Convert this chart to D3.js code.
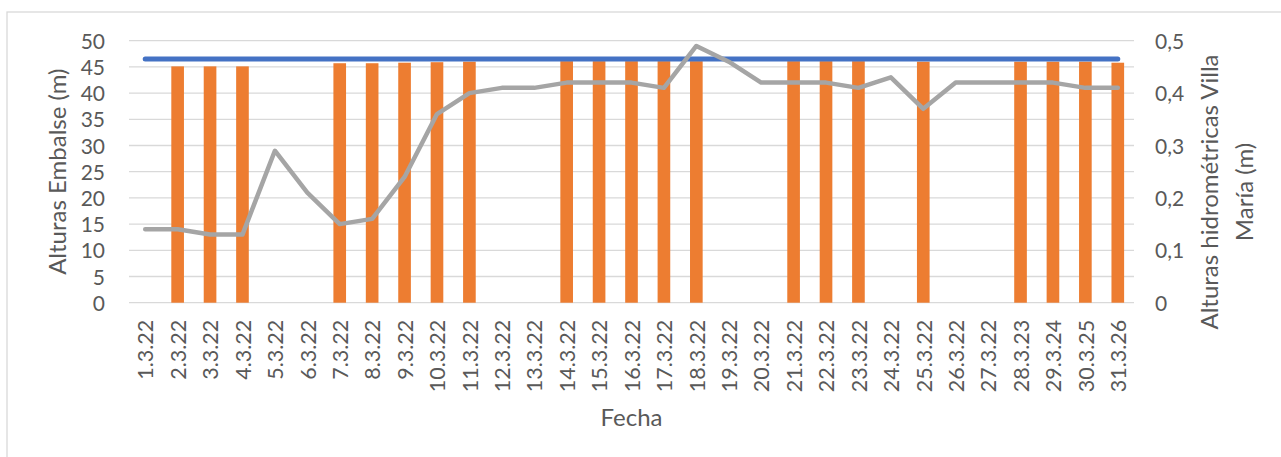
<!DOCTYPE html>
<html>
<head>
<meta charset="utf-8">
<script src="https://cdn.jsdelivr.net/npm/d3@7"></script>
<style>
  html, body { margin: 0; padding: 0; background: #fff; }
  svg { display: block; }
  text { font-family: Lato, "Open Sans", sans-serif; fill: #595959; }
</style>
</head>
<body>
<svg id="chart" width="1281" height="457"></svg>
<script>
// Fechas (eje X)
const fechas = ["1.3.22","2.3.22","3.3.22","4.3.22","5.3.22","6.3.22","7.3.22","8.3.22","9.3.22","10.3.22",
  "11.3.22","12.3.22","13.3.22","14.3.22","15.3.22","16.3.22","17.3.22","18.3.22","19.3.22","20.3.22",
  "21.3.22","22.3.22","23.3.22","24.3.22","25.3.22","26.3.22","27.3.22","28.3.23","29.3.24","30.3.25","31.3.26"];

// Alturas del embalse (m), eje izquierdo; null = sin dato
const alturasEmbalse = [null,45.1,45.1,45.1,null,null,45.7,45.7,45.8,45.9,
  46.0,null,null,46.1,46.1,46.1,46.1,46.1,null,null,
  46.1,46.1,46.1,null,46.0,null,null,46.0,46.0,46.0,45.8];

// Cota de referencia del embalse (m), eje izquierdo
const cotaReferencia = [46.5,46.5,46.5,46.5,46.5,46.5,46.5,46.5,46.5,46.5,
  46.5,46.5,46.5,46.5,46.5,46.5,46.5,46.5,46.5,46.5,
  46.5,46.5,46.5,46.5,46.5,46.5,46.5,46.5,46.5,46.5,46.5];

// Alturas hidrométricas Villa María (m), eje derecho
const alturasVillaMaria = [0.14,0.14,0.13,0.13,0.29,0.21,0.15,0.16,0.24,0.36,
  0.40,0.41,0.41,0.42,0.42,0.42,0.41,0.49,0.46,0.42,
  0.42,0.42,0.41,0.43,0.37,0.42,0.42,0.42,0.42,0.41,0.41];

// Marcas de los ejes
const ticksIzq = [0,5,10,15,20,25,30,35,40,45,50];
const ticksDer = [0,0.1,0.2,0.3,0.4,0.5];

const svg = d3.select("#chart");

// Marco del gráfico
svg.append("rect")
  .attr("x", 7).attr("y", 12).attr("width", 1290).attr("height", 460)
  .attr("fill", "none").attr("stroke", "#d9d9d9").attr("stroke-width", 1.3);

const plot = { left: 129, right: 1134, top: 40.7, bottom: 302.7 };

const x = d3.scalePoint().domain(fechas).range([plot.left, plot.right]).padding(0.5);
const yL = d3.scaleLinear().domain([0, 50]).range([plot.bottom, plot.top]);
const yR = d3.scaleLinear().domain([0, 0.5]).range([plot.bottom, plot.top]);
const barW = x.step() * 0.39;

// Líneas de cuadrícula
svg.append("g")
  .selectAll("line").data(ticksIzq).join("line")
  .attr("x1", plot.left).attr("x2", plot.right)
  .attr("y1", d => yL(d)).attr("y2", d => yL(d))
  .attr("stroke", "#d9d9d9").attr("stroke-width", 1.3);

// Eje izquierdo
const axL = svg.append("g").attr("transform", `translate(${plot.left},0)`)
  .call(d3.axisLeft(yL).tickValues(ticksIzq).tickSize(0).tickPadding(24).tickFormat(d3.format("d")));
axL.select(".domain").remove();
axL.selectAll("text").style("font-size", "21px").style("fill", "#595959").attr("dy", "0.36em");

// Eje derecho
const axR = svg.append("g").attr("transform", `translate(${plot.right},0)`)
  .call(d3.axisRight(yR).tickValues(ticksDer).tickSize(0).tickPadding(21)
    .tickFormat(d => d === 0 ? "0" : d3.format(".1f")(d).replace(".", ",")));
axR.select(".domain").remove();
axR.selectAll("text").style("font-size", "21px").style("fill", "#595959").attr("dy", "0.36em");

// Eje X
const axX = svg.append("g").attr("transform", `translate(0,${plot.bottom})`)
  .call(d3.axisBottom(x).tickSize(0).tickPadding(0));
axX.select(".domain").remove();
axX.selectAll("text")
  .style("font-size", "21.5px").style("fill", "#595959")
  .attr("text-anchor", "end")
  .attr("transform", "translate(0,17) rotate(-90)")
  .attr("x", 0).attr("y", 0).attr("dy", "0.36em");

// Barras: alturas del embalse
svg.append("g")
  .selectAll("rect").data(fechas.map((f, i) => ({ f, v: alturasEmbalse[i] })).filter(d => d.v != null))
  .join("rect")
  .attr("x", d => x(d.f) - barW / 2)
  .attr("y", d => yL(d.v))
  .attr("width", barW)
  .attr("height", d => yL(0) - yL(d.v))
  .attr("fill", "#ed7d31");

// Línea de cota de referencia
svg.append("path")
  .datum(fechas.map((f, i) => [x(f), yL(cotaReferencia[i])]))
  .attr("d", d3.line())
  .attr("fill", "none").attr("stroke", "#4472c4").attr("stroke-width", 5)
  .attr("stroke-linecap", "round");

// Línea de alturas hidrométricas
svg.append("path")
  .datum(fechas.map((f, i) => [x(f), yR(alturasVillaMaria[i])]))
  .attr("d", d3.line())
  .attr("fill", "none").attr("stroke", "#a5a5a5").attr("stroke-width", 4.5)
  .attr("stroke-linejoin", "round").attr("stroke-linecap", "round");

// Títulos de ejes
svg.append("text")
  .attr("transform", `translate(66,${(plot.top + plot.bottom) / 2}) rotate(-90)`)
  .attr("text-anchor", "middle")
  .style("font-size", "24px")
  .text("Alturas Embalse (m)");

const tituloDer = svg.append("text")
  .attr("transform", "translate(1218,192) rotate(-90)")
  .attr("text-anchor", "middle")
  .style("font-size", "24px");
tituloDer.append("tspan").attr("x", 0).attr("dy", "0").text("Alturas hidrométricas Villa");
tituloDer.append("tspan").attr("x", 0).attr("dy", "35").text("María (m)");

svg.append("text")
  .attr("x", (plot.left + plot.right) / 2).attr("y", 426)
  .attr("text-anchor", "middle")
  .style("font-size", "24px")
  .text("Fecha");
</script>
</body>
</html>
